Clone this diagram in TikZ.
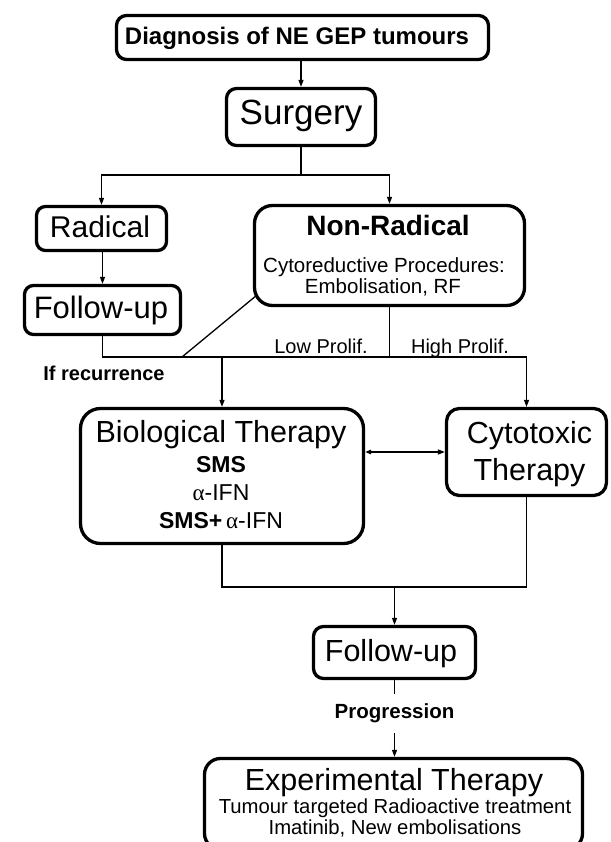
\documentclass[tikz,border=0pt]{standalone}
\usepackage{fontspec}
\setmainfont{Liberation Sans}
\newfontfamily\greekfont{Liberation Serif}
\usetikzlibrary{arrows.meta,calc}
\newcommand\fsz[1]{\fontsize{#1}{#1}\selectfont}
\newcommand\alf{{\greekfont α}}
\begin{document}
\begin{tikzpicture}[x=1pt,y=-1pt,
  box/.style={draw, line width=3.3pt, inner sep=0pt},
  conn/.style={line width=1.3pt},
  arr/.style={conn, -{Triangle[length=7pt,width=5pt]}},
  dblarr/.style={conn, {Triangle[length=6pt,width=4.5pt]}-{Triangle[length=7pt,width=5pt]}},
  lbl/.style={inner sep=0pt, anchor=base}]
\useasboundingbox (0,0) rectangle (610,842);
\fill[white] (0,0) rectangle (610,842);
\clip (0,0) rectangle (610,842);

% boxes
\node[box, rounded corners=10pt, minimum width=372pt, minimum height=44pt] (diag) at (302.5,37.5) {};
\node[box, rounded corners=10pt, minimum width=149pt, minimum height=57pt] (surg) at (301,117) {};
\node[box, rounded corners=9pt, minimum width=130pt, minimum height=44pt] (rad) at (101.5,228.5) {};
\node[box, rounded corners=9pt, minimum width=156pt, minimum height=49pt] (fu1) at (102.5,310) {};
\node[box, rounded corners=18pt, minimum width=270pt, minimum height=100pt] (nonrad) at (389.5,255.5) {};
\node[box, rounded corners=20pt, minimum width=283pt, minimum height=135pt] (bio) at (222,476) {};
\node[box, rounded corners=13pt, minimum width=160pt, minimum height=87pt] (cyto) at (526.5,452) {};
\node[box, rounded corners=10pt, minimum width=162pt, minimum height=52pt] (fu2) at (394.5,652.5) {};
\node[box, rounded corners=16pt, minimum width=378pt, minimum height=91pt] (exp) at (393.5,804) {};

% texts
\node[lbl] (tdiag) at (297,45) {\fsz{24}\bfseries Diagnosis of NE GEP tumours};
\node[lbl] (tsurg) at (301,125) {\fsz{35}Surgery};
\node[lbl] (trad) at (100,237) {\fsz{30}Radical};
\node[lbl] (tfu1) at (101,318) {\fsz{31}Follow-up};
\node[lbl] (tnr1) at (388,236) {\fsz{28}\bfseries Non-Radical};
\node[lbl] (tnr2) at (384,272) {\fsz{20.5}Cytoreductive Procedures:};
\node[lbl] (tnr3) at (383,293) {\fsz{20.5}Embolisation, RF};
\node[lbl] (tlow) at (321,353) {\fsz{20}Low Prolif.};
\node[lbl] (thigh) at (460,353) {\fsz{20}High Prolif.};
\node[lbl] (trec) at (104,380) {\fsz{20}\bfseries If recurrence};
\node[lbl] (tbio1) at (221,442) {\fsz{30.5}Biological Therapy};
\node[lbl] (tbio2) at (221,472) {\fsz{23}\bfseries SMS};
\node[lbl] (tbio3) at (221,500) {\fsz{23}\alf-IFN};
\node[lbl] (tbio4) at (221,528) {\fsz{23}{\bfseries SMS+}\,\alf-IFN};
\node[lbl] (tcy1) at (529.5,443) {\fsz{30.5}Cytotoxic};
\node[lbl] (tcy2) at (529.5,480) {\fsz{30.5}Therapy};
\node[lbl] (tfu2) at (391,661) {\fsz{30.5}Follow-up};
\node[lbl] (tex1) at (394,790) {\fsz{30.5}Experimental Therapy};
\node[lbl] (tex2) at (395,813) {\fsz{20.3}Tumour targeted Radioactive treatment};
\node[lbl] (tex3) at (395,834) {\fsz{20.3}Imatinib, New embolisations};

% connectors
\draw[arr] (diag.south -| surg.north) -- (surg.north);
\coordinate (sj) at (301,175);
\draw[conn] (surg.south) -- (sj);
\draw[arr] (sj) -| (rad.north);
\draw[arr] (sj) -| (nonrad.north);
\draw[arr] (rad.south -| fu1.north) -- (fu1.north);

\coordinate (jy) at (0,357);
\draw[arr] (fu1.south) |- (cyto.north |- jy) -- (cyto.north);
\draw[conn] (nonrad.south) -- (nonrad.south |- jy);
\draw[arr] (bio.north |- jy) -- (bio.north);
\coordinate (dg) at (182,357);
\draw[conn] (dg) -- ($(nonrad.south west)+(4,-12)$);

\draw[dblarr] (bio.east |- cyto.west) -- (cyto.west);

\coordinate (jy2) at (0,587);
\draw[conn] (bio.south) |- (cyto.south |- jy2) -- (cyto.south);
\draw[arr] (fu2.north |- jy2) -- (fu2.north);

\draw[arr] (fu2.south) -- (fu2.south |- exp.north)
  node[pos=0.506, anchor=base, fill=white, inner xsep=2pt, inner ysep=10pt] (tprog) {\fsz{20.5}\bfseries Progression};
\end{tikzpicture}
\end{document}
